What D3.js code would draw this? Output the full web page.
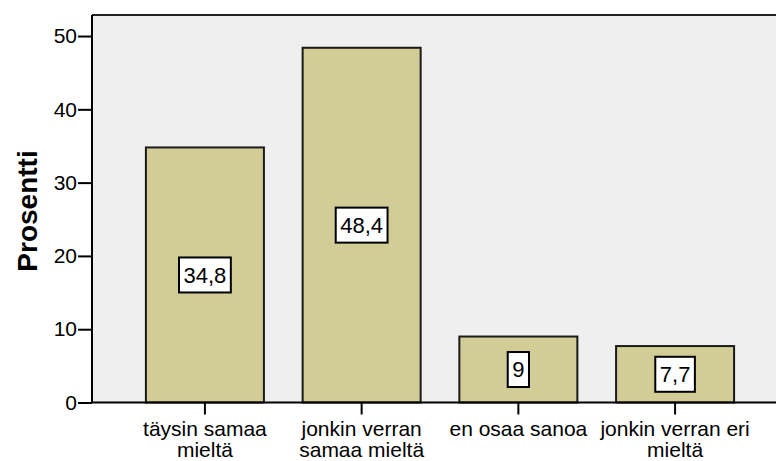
<!DOCTYPE html>
<html>
<head>
<meta charset="utf-8">
<script src="https://cdn.jsdelivr.net/npm/d3@7"></script>
<style>
  body { margin: 0; background: #fff; }
  text { font-family: "Liberation Sans", Arial, sans-serif; fill: #000; }
</style>
</head>
<body>
<div id="chart"></div>
<script>
// data
const categories = [
  ["täysin samaa", "mieltä"],
  ["jonkin verran", "samaa mieltä"],
  ["en osaa sanoa"],
  ["jonkin verran eri", "mieltä"]
]
const values = [34.8, 48.4, 9, 7.7]
const valueLabels = ["34,8", "48,4", "9", "7,7"]
const yTicks = [0, 10, 20, 30, 40, 50]

var width = 776,
    height = 461

// plot area (right side runs past the window edge like in the original)
var pLeft = 92, pRight = 788, pTop = 15, pBottom = 402.5

var svg = d3.select("#chart")
  .append("svg")
    .attr("width", width)
    .attr("height", height)

var x = d3.scaleBand()
  .domain(d3.range(values.length))
  .range([pLeft, pRight])
  .paddingInner(0.247)
  .paddingOuter(0.344)

var y = d3.scaleLinear()
  .domain([0, 52.87])
  .range([pBottom, pTop])

// plot background
svg.append("rect")
  .attr("x", pLeft)
  .attr("y", pTop)
  .attr("width", pRight - pLeft)
  .attr("height", pBottom - pTop)
  .attr("fill", "#efefef")

// top border
svg.append("line")
  .attr("x1", pLeft).attr("x2", pRight)
  .attr("y1", pTop).attr("y2", pTop)
  .attr("stroke", "#222").attr("stroke-width", 2)

// bars
svg.selectAll(".bar")
  .data(values)
  .enter()
  .append("rect")
    .attr("class", "bar")
    .attr("x", (d, i) => x(i))
    .attr("y", d => y(d))
    .attr("width", x.bandwidth())
    .attr("height", d => y(0) - y(d))
    .attr("fill", "#d2cd97")
    .attr("stroke", "#1a1a1a")
    .attr("stroke-width", 2)

// value labels in white boxes
var fs = 22
var lab = svg.selectAll(".vlab")
  .data(values)
  .enter()
  .append("g")
    .attr("class", "vlab")
    .attr("transform", (d, i) => "translate(" + (x(i) + x.bandwidth() / 2) + "," + (y(d / 2)) + ")")

lab.append("text")
  .text((d, i) => valueLabels[i])
  .attr("text-anchor", "middle")
  .attr("dy", "0.36em")
  .style("font-size", fs + "px")

lab.each(function() {
  var g = d3.select(this)
  var bb = g.select("text").node().getBBox()
  g.insert("rect", "text")
    .attr("x", bb.x - 4.5)
    .attr("y", -17.5)
    .attr("width", bb.width + 9)
    .attr("height", 35)
    .attr("fill", "#fff")
    .attr("stroke", "#000")
    .attr("stroke-width", 2)
})

// y axis
var yAxis = svg.append("g")
  .attr("transform", "translate(" + pLeft + ",0)")
  .call(d3.axisLeft(y).tickValues(yTicks).tickSize(14).tickPadding(1).tickFormat(d3.format("d")))
yAxis.select(".domain").attr("stroke", "#000").attr("stroke-width", 2)
  .attr("d", "M0," + pTop + "V" + pBottom)
yAxis.selectAll(".tick line").attr("stroke", "#000").attr("stroke-width", 2)
yAxis.selectAll(".tick text").style("font-size", "21px").style("font-family", "Liberation Sans, Arial, sans-serif").attr("fill", "#000")

// x axis
var xAxis = svg.append("g")
  .attr("transform", "translate(0," + pBottom + ")")
  .call(d3.axisBottom(x).tickSize(12).tickFormat(""))
xAxis.select(".domain").attr("stroke", "#000").attr("stroke-width", 2)
  .attr("d", "M" + pLeft + ",0H" + pRight)
xAxis.selectAll(".tick line").attr("stroke", "#000").attr("stroke-width", 2)

// category labels, one tspan per line
var cat = svg.selectAll(".cat")
  .data(categories)
  .enter()
  .append("text")
    .attr("class", "cat")
    .attr("text-anchor", "middle")
    .attr("transform", (d, i) => "translate(" + (x(i) + x.bandwidth() / 2) + ",436)")
    .style("font-size", "21px")
cat.selectAll("tspan")
  .data(d => d)
  .enter()
  .append("tspan")
    .attr("x", 0)
    .attr("dy", (d, j) => j == 0 ? 0 : 21)
    .text(d => d)

// axis title
svg.append("text")
  .text("Prosentti")
  .attr("transform", "translate(37,211) rotate(-90)")
  .attr("text-anchor", "middle")
  .style("font-size", "28px")
  .style("font-weight", "bold")
</script>
</body>
</html>
